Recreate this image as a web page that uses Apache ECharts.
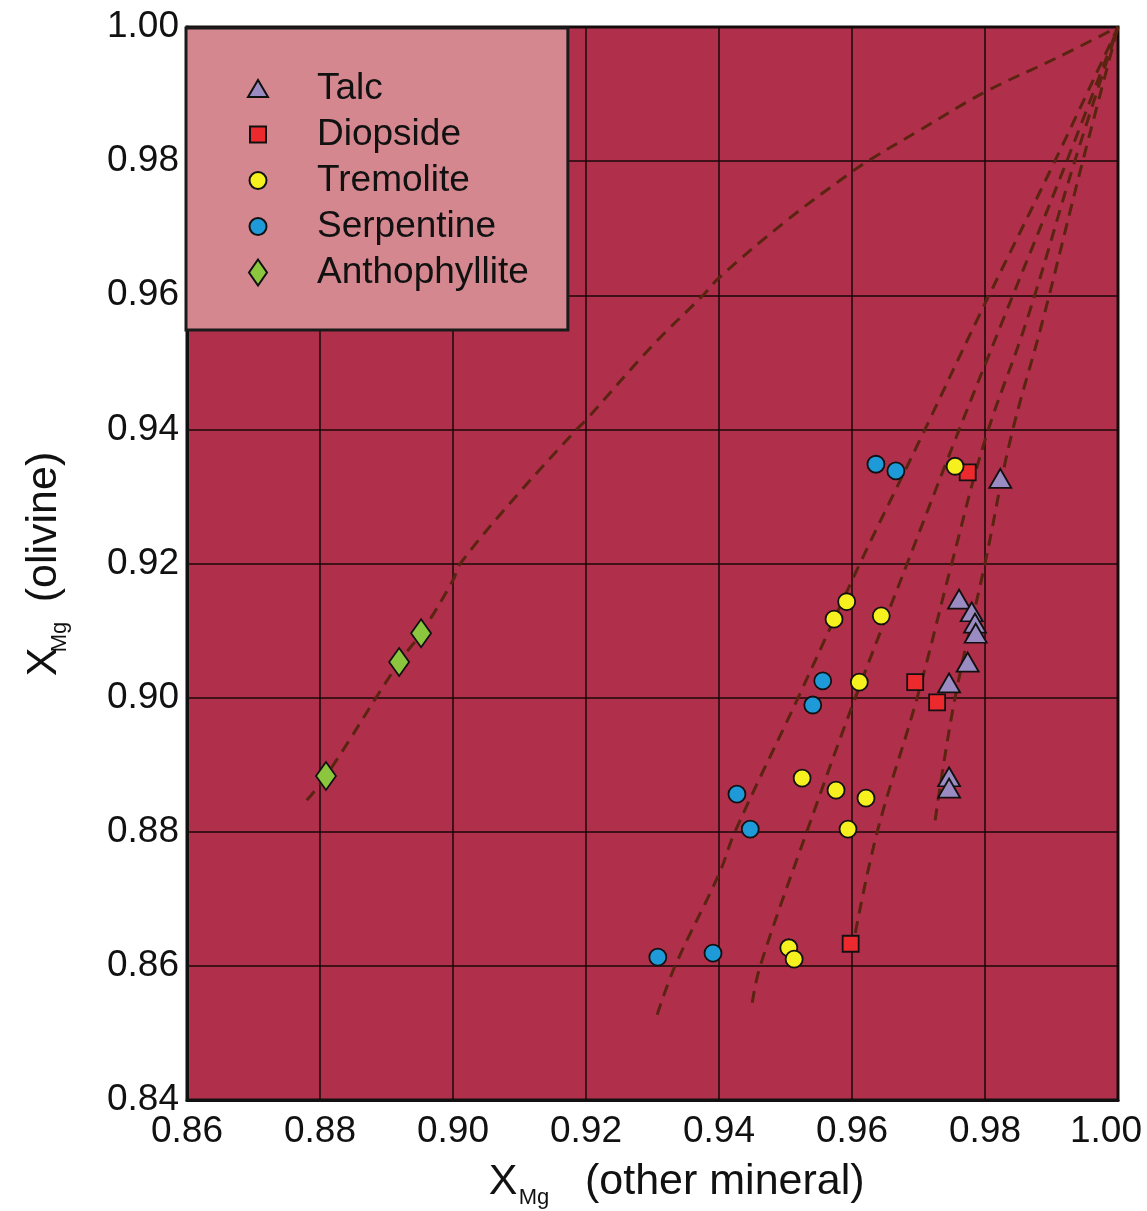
<!DOCTYPE html>
<html>
<head>
<meta charset="utf-8">
<script src="https://cdn.jsdelivr.net/npm/echarts@6/dist/echarts.min.js"></script>
<style>
  html, body { margin: 0; padding: 0; background: #fff; }
  #main { width: 1147px; height: 1211px; }
</style>
</head>
<body>
<div id="main"></div>
<script>
// axis ticks
var xTicks = [0.86, 0.88, 0.90, 0.92, 0.94, 0.96, 0.98, 1.00];
var yTicks = [0.84, 0.86, 0.88, 0.90, 0.92, 0.94, 0.96, 0.98, 1.00];

// measured points [X_Mg other mineral, X_Mg olivine]
var talc = [
  [0.9823, 0.9327], [0.9761, 0.9147], [0.9780, 0.9128], [0.9785, 0.9111],
  [0.9786, 0.9096], [0.9774, 0.9053], [0.9746, 0.9022], [0.9746, 0.8882],
  [0.9746, 0.8865]
];
var diopside = [
  [0.9774, 0.9336], [0.9695, 0.9023], [0.9728, 0.8993], [0.9598, 0.8633]
];
var tremolite = [
  [0.9755, 0.9345], [0.9592, 0.9143], [0.9573, 0.9117], [0.9644, 0.9122],
  [0.9611, 0.9023], [0.9525, 0.8880], [0.9576, 0.8862], [0.9621, 0.8850],
  [0.9594, 0.8804], [0.9505, 0.8627], [0.9513, 0.8610]
];
var serpentine = [
  [0.9636, 0.9348], [0.9666, 0.9338], [0.9556, 0.9025], [0.9541, 0.8989],
  [0.9427, 0.8856], [0.9447, 0.8804], [0.9308, 0.8613], [0.9391, 0.8619]
];
var anthophyllite = [
  [0.8952, 0.9096], [0.8919, 0.9053], [0.8809, 0.8883]
];

// dashed distribution curves
var curveAnth = [
  [0.8780, 0.8847], [0.8809, 0.8883], [0.8919, 0.9053], [0.8952, 0.9096],
  [0.9000, 0.9175], [0.9011, 0.9200], [0.9100, 0.9306], [0.9186, 0.9400],
  [0.9200, 0.9414], [0.9300, 0.9525], [0.9376, 0.9600], [0.9400, 0.9626],
  [0.9500, 0.9710], [0.9597, 0.9782], [0.9632, 0.9805], [0.9700, 0.9845],
  [0.9800, 0.9903], [0.9908, 0.9954], [1.0000, 1.0000]
];
var curve1 = [
  [0.9307, 0.8527], [0.9334, 0.8600], [0.9400, 0.8737], [0.9424, 0.8800],
  [0.9519, 0.9000], [0.9612, 0.9200], [0.9702, 0.9384], [0.9788, 0.9563],
  [0.9905, 0.9800], [1.0000, 1.0000]
];
var curve2 = [
  [0.9450, 0.8545], [0.9462, 0.8600], [0.9532, 0.8800], [0.9605, 0.9000],
  [0.9683, 0.9200], [0.9755, 0.9384], [0.9827, 0.9563], [0.9923, 0.9800],
  [1.0000, 1.0000]
];
var curve3 = [
  [0.9605, 0.8649], [0.9638, 0.8800], [0.9698, 0.9000], [0.9750, 0.9200],
  [0.9800, 0.9384], [0.9863, 0.9563], [0.9935, 0.9800], [1.0000, 1.0000]
];
var curve4 = [
  [0.9725, 0.8817], [0.9755, 0.9000], [0.9800, 0.9200], [0.9838, 0.9384],
  [0.9887, 0.9563], [0.9947, 0.9800], [1.0000, 1.0000]
];

var FONT = "'Liberation Sans', Arial, sans-serif";
var myChart = echarts.init(document.getElementById('main'));

// legend icons share a 20x26 box so each keeps its own size
var ICON_BOX = 'M0 0 M20 26 ';
var icons = {
  Talc: 'path://' + ICON_BOX + 'M0 21.5 L10 4.5 L20 21.5 Z',
  Diopside: 'path://' + ICON_BOX + 'M2 5 L18 5 L18 21 L2 21 Z',
  Tremolite: 'path://' + ICON_BOX + 'M1.5 13 A8.5 8.5 0 1 1 18.5 13 A8.5 8.5 0 1 1 1.5 13 Z',
  Serpentine: 'path://' + ICON_BOX + 'M1.5 13 A8.5 8.5 0 1 1 18.5 13 A8.5 8.5 0 1 1 1.5 13 Z',
  Anthophyllite: 'path://' + ICON_BOX + 'M10 0 L19 13 L10 26 L1 13 Z'
};

function curveSeries(data) {
  return {
    type: 'line',
    data: data,
    smooth: 0.4,
    showSymbol: false,
    silent: true,
    z: 1,
    lineStyle: { color: '#5a2410', width: 3, type: [12, 8] }
  };
}

function markSeries(name, data, symbol, size, color) {
  return {
    name: name,
    type: 'scatter',
    data: data,
    symbol: symbol,
    symbolSize: size,
    z: 5,
    itemStyle: { color: color, borderColor: '#111', borderWidth: 1.8, opacity: 1 }
  };
}

var option = {
  animation: false,
  backgroundColor: '#ffffff',
  grid: {
    left: 187, right: 29, top: 27, bottom: 111,
    outerBoundsMode: 'none',
    show: true,
    backgroundColor: '#b0304b',
    borderColor: '#111',
    borderWidth: 3
  },
  legend: {
    data: ['Talc', 'Diopside', 'Tremolite', 'Serpentine', 'Anthophyllite'].map(function (n) {
      return { name: n, icon: icons[n] };
    }),
    orient: 'vertical',
    left: 186, top: 28,
    backgroundColor: '#d4878e',
    borderColor: '#1a1a1a',
    borderWidth: 3,
    padding: [42, 39, 39, 61],
    itemWidth: 20, itemHeight: 26, itemGap: 9,
    textStyle: { fontFamily: FONT, fontSize: 37, color: '#111', lineHeight: 37, padding: [0, 0, 0, 44] }
  },
  xAxis: {
    type: 'value',
    min: xTicks[0], max: xTicks[xTicks.length - 1], interval: 0.02,
    axisLine: { show: true, lineStyle: { color: '#111', width: 3 } },
    axisTick: { show: false },
    splitLine: { show: true, lineStyle: { color: '#1a0808', width: 1.5 } },
    axisLabel: {
      margin: 13, fontFamily: FONT, fontSize: 37, color: '#111',
      formatter: function (v) {
        var s = v.toFixed(2);
        return v >= 0.999 ? '{last|' + s + '}' : s;
      },
      rich: {
        last: { fontFamily: FONT, fontSize: 37, color: '#111', padding: [0, 24, 0, 0] }
      }
    }
  },
  yAxis: {
    type: 'value',
    min: yTicks[0], max: yTicks[yTicks.length - 1], interval: 0.02,
    axisLine: { show: true, lineStyle: { color: '#111', width: 3 } },
    axisTick: { show: false },
    splitLine: { show: true, lineStyle: { color: '#1a0808', width: 1.5 } },
    axisLabel: {
      margin: 8, fontFamily: FONT, fontSize: 37, color: '#111',
      formatter: function (v) { return v.toFixed(2); }
    }
  },
  graphic: [
    {
      type: 'group', x: 0, y: 0,
      children: [
        { type: 'text', x: 503, y: 1182, style: { text: 'X', fontFamily: FONT, fontSize: 43, fill: '#111', align: 'center', verticalAlign: 'middle' } },
        { type: 'text', x: 534, y: 1198, style: { text: 'Mg', fontFamily: FONT, fontSize: 22, fill: '#111', align: 'center', verticalAlign: 'middle' } },
        { type: 'text', x: 585, y: 1182, style: { text: '(other mineral)', fontFamily: FONT, fontSize: 43, fill: '#111', align: 'left', verticalAlign: 'middle' } }
      ]
    },
    {
      type: 'group', x: 44, y: 662, rotation: Math.PI / 2,
      children: [
        { type: 'text', x: 0, y: 0, style: { text: 'X', fontFamily: FONT, fontSize: 43, fill: '#111', align: 'center', verticalAlign: 'middle' } },
        { type: 'text', x: 25, y: 16, style: { text: 'Mg', fontFamily: FONT, fontSize: 22, fill: '#111', align: 'center', verticalAlign: 'middle' } },
        { type: 'text', x: 135, y: 0, style: { text: '(olivine)', fontFamily: FONT, fontSize: 43, fill: '#111', align: 'center', verticalAlign: 'middle' } }
      ]
    }
  ],
  series: [
    curveSeries(curveAnth),
    curveSeries(curve1),
    curveSeries(curve2),
    curveSeries(curve3),
    curveSeries(curve4),
    markSeries('Talc', talc, 'triangle', [22, 19], '#9a8cc2'),
    markSeries('Diopside', diopside, 'rect', 16, '#ec2a2e'),
    markSeries('Tremolite', tremolite, 'circle', 17, '#f6f01e'),
    markSeries('Serpentine', serpentine, 'circle', 17, '#1f9ad8'),
    markSeries('Anthophyllite', anthophyllite, 'diamond', [20, 28], '#8cc63f')
  ]
};

myChart.setOption(option);
</script>
</body>
</html>
